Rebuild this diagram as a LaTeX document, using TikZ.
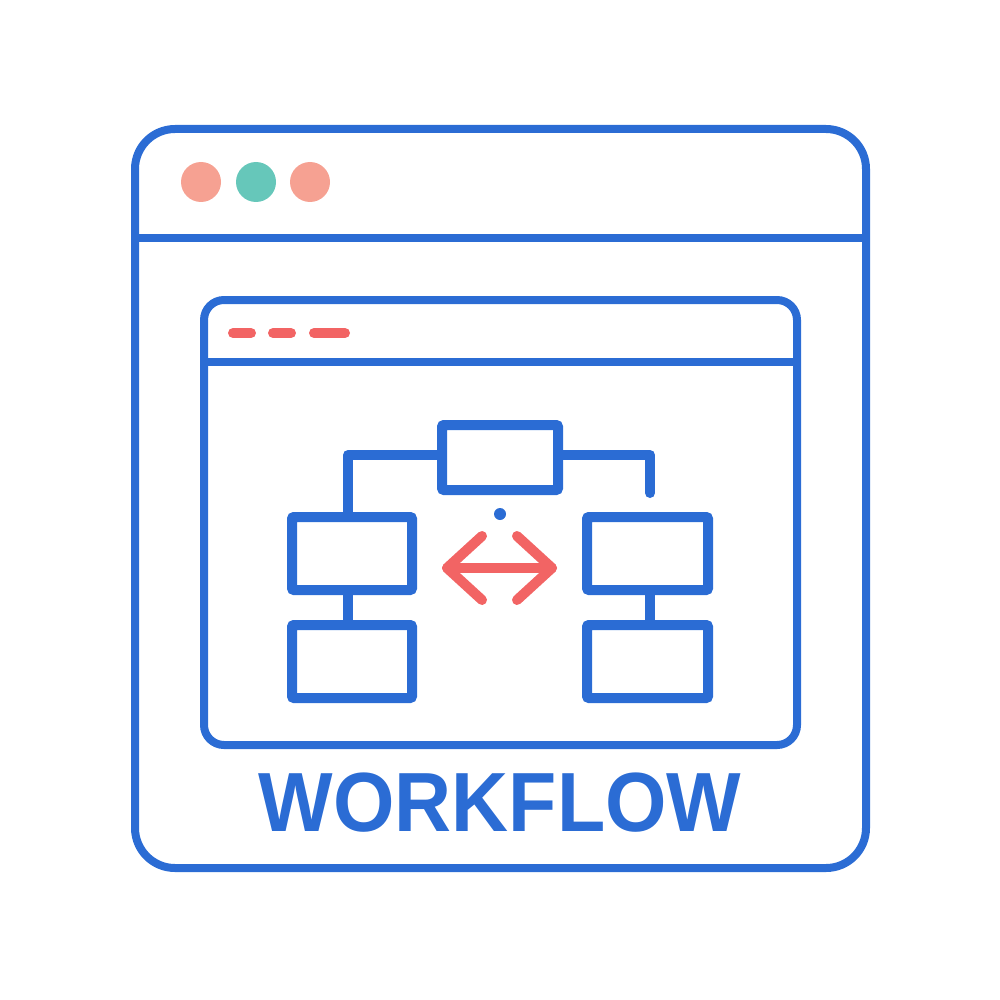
\documentclass[tikz,border=0pt]{standalone}
\usepackage{fontspec}
\setmainfont{Liberation Sans}
\usetikzlibrary{positioning}
\definecolor{wfblue}{HTML}{2B6CD4}
\definecolor{dotsalmon}{HTML}{F6A192}
\definecolor{dotteal}{HTML}{66C7BA}
\definecolor{arrred}{HTML}{F26464}

\begin{document}
\begin{tikzpicture}[x=1pt, y=-1pt,
  win/.style = {draw=wfblue, line width=8pt},
  dot/.style = {circle, inner sep=0pt, minimum size=40pt},
  box/.style = {draw=wfblue, line width=10pt, rounded corners=2pt, inner sep=0pt, minimum width=120pt, minimum height=73pt},
  link/.style = {draw=wfblue, line width=10pt, line cap=round, line join=round},
  reddash/.style = {draw=arrred, line width=10pt, line cap=round, line join=round}]
\useasboundingbox (0,0) rectangle (1000,1000);
% browser window
\node[win, rounded corners=40pt, minimum width=731pt, minimum height=739pt] (outer) at (500.5,498.5) {};
\draw[win] (outer.west |- 0,238) -- (outer.east |- 0,238);
\node[dot, fill=dotsalmon] (d1) at (201,182) {};
\node[dot, fill=dotteal] (d2) at (256,182) {};
\node[dot, fill=dotsalmon] (d3) at (310,182) {};
% inner window
\node[win, rounded corners=20pt, minimum width=593pt, minimum height=445pt] (inner) at (500.5,522.5) {};
\draw[win] (inner.west |- 0,362) -- (inner.east |- 0,362);
\draw[reddash] (233,333) -- (251,333);
\draw[reddash] (273,333) -- (291,333);
\draw[reddash] (314,333) -- (345,333);
% flowchart
\node[box, minimum width=116pt, minimum height=65pt] (top) at (500,457.5) {};
\node[box] (l1) at (352,553.5) {};
\node[box] (l2) at (352,661.5) {};
\node[box, minimum width=121pt] (r1) at (647.5,553.5) {};
\node[box, minimum width=121pt] (r2) at (647.5,661.5) {};
\coordinate (rend) at (650,493);
\coordinate (joint) at (500,514);
\path[link] (top.west |- 0,455) -| (l1.north -| 348,0);
\path[link] (top.east |- 0,455) -| (rend);
\path[link] (l1.south -| 348,0) -- (l2.north -| 348,0);
\path[link] (r1.south -| 650,0) -- (r2.north -| 650,0);
\fill[wfblue] (joint) circle (6pt);
% double arrow
\coordinate (arrL) at (447,568);
\coordinate (arrR) at (552,568);
\draw[reddash] (arrL) -- (arrR);
\draw[reddash] ([shift={(35,-32)}]arrL) -- (arrL) -- ([shift={(35,32)}]arrL);
\draw[reddash] ([shift={(-35,-32)}]arrR) -- (arrR) -- ([shift={(-35,32)}]arrR);
% title
\node[font=\fontsize{84}{84}\selectfont\bfseries, text=wfblue, xscale=0.94, inner sep=0pt, anchor=base] (title) at (500,831) {WORKFLOW};
\end{tikzpicture}
\end{document}
